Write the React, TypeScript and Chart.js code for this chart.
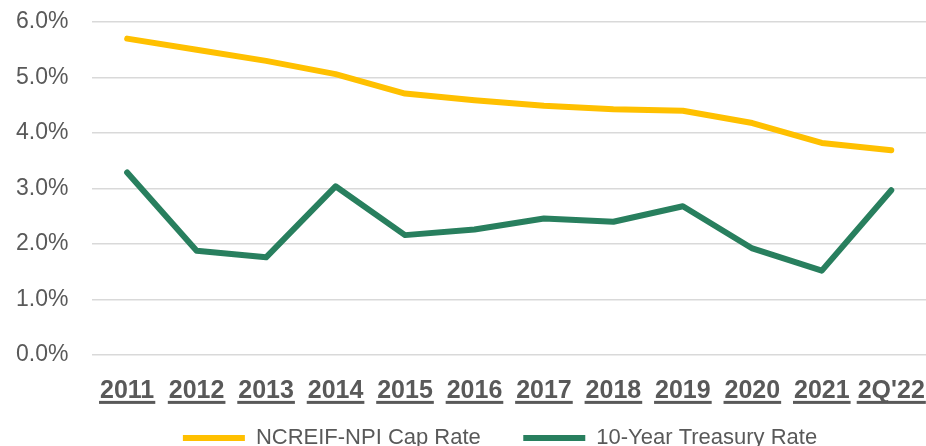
import React, { useEffect, useRef } from "react";
import { Chart, registerables } from "chart.js";

Chart.register(...registerables);

const categories = ["2011", "2012", "2013", "2014", "2015", "2016", "2017", "2018", "2019", "2020", "2021", "2Q'22"];
const capRate = [5.7, 5.5, 5.3, 5.06, 4.71, 4.59, 4.49, 4.43, 4.4, 4.18, 3.82, 3.69];
const treasury = [3.29, 1.88, 1.76, 3.04, 2.16, 2.26, 2.46, 2.4, 2.68, 1.92, 1.52, 2.97];
const yTicks = [0, 1, 2, 3, 4, 5, 6];

const FONT = "'Liberation Sans', Arial, sans-serif";
const TEXT = "#595959";

const underlinePlugin = {
  id: "underlineTicks",
  afterDraw(chart: any) {
    const scale = chart.scales.x;
    const ctx = chart.ctx;
    const items = scale.getLabelItems();
    ctx.save();
    items.forEach((item: any) => {
      ctx.font = item.font.string;
      ctx.textBaseline = item.options.textBaseline;
      const label = String(item.label);
      const m = ctx.measureText(label);
      const ref = ctx.measureText("0");
      const [tx, ty] = item.options.translation;
      const y = ty + item.textOffset + ref.actualBoundingBoxDescent + 3;
      ctx.fillStyle = TEXT;
      ctx.fillRect(tx - m.width / 2 - 1, y, m.width + 2, 3);
    });
    ctx.restore();
  },
};

export default function App() {
  const ref = useRef<HTMLCanvasElement | null>(null);
  useEffect(() => {
    document.body.style.margin = "0";
    const chart = new Chart(ref.current as HTMLCanvasElement, {
      type: "line",
      data: {
        labels: categories,
        datasets: [
          {
            label: "NCREIF-NPI Cap Rate",
            data: capRate,
            borderColor: "#FFC000",
            backgroundColor: "#FFC000",
            borderWidth: 6,
            pointRadius: 0,
            borderCapStyle: "round",
            borderJoinStyle: "round",
            tension: 0,
          },
          {
            label: "10-Year Treasury Rate",
            data: treasury,
            borderColor: "#287F5E",
            backgroundColor: "#287F5E",
            borderWidth: 6,
            pointRadius: 0,
            borderCapStyle: "round",
            borderJoinStyle: "round",
            tension: 0,
          },
        ],
      },
      options: {
        animation: false,
        responsive: false,
        maintainAspectRatio: false,
        layout: { padding: { top: 22, right: 0, left: -8, bottom: -13 } },
        plugins: {
          tooltip: { enabled: false },
          legend: {
            position: "bottom",
            fullSize: false,
            labels: {
              usePointStyle: true,
              pointStyle: "line",
              pointStyleWidth: 62,
              padding: 18,
              color: TEXT,
              font: { family: FONT, size: 22 },
              generateLabels: (c: any) => {
                const items = Chart.defaults.plugins.legend.labels.generateLabels(c);
                return items.map((it: any, i: number) => ({
                  ...it,
                  text: it.text + (i < items.length - 1 ? "    " : "   "),
                }));
              },
            },
          },
        },
        scales: {
          x: {
            offset: true,
            grid: { display: false, drawTicks: false },
            border: { display: false },
            afterFit: (s: any) => {
              s.paddingLeft = 0;
              s.paddingRight = 0;
              s.height = 54;
            },
            ticks: {
              color: TEXT,
              padding: 21,
              maxRotation: 0,
              autoSkip: false,
              font: { family: FONT, size: 25, weight: "bold" },
            },
          },
          y: {
            min: 0,
            max: 6,
            afterBuildTicks: (axis: any) => {
              axis.ticks = yTicks.map((v) => ({ value: v }));
            },
            afterFit: (s: any) => {
              s.paddingTop = 0;
              s.paddingBottom = 0;
            },
            grid: { color: "#D9D9D9", lineWidth: 1.5, drawTicks: false },
            border: { display: false },
            ticks: {
              color: TEXT,
              padding: 24,
              font: { family: FONT, size: 23 },
              callback: (v: any) => Number(v).toFixed(1) + "%",
            },
          },
        },
      },
      plugins: [underlinePlugin],
    } as any);
    return () => chart.destroy();
  }, []);
  return (
    <div style={{ position: "absolute", left: 0, top: 0, width: 926, height: 446 }}>
      <canvas ref={ref} width={926} height={446} style={{ width: 926, height: 446 }} />
    </div>
  );
}
